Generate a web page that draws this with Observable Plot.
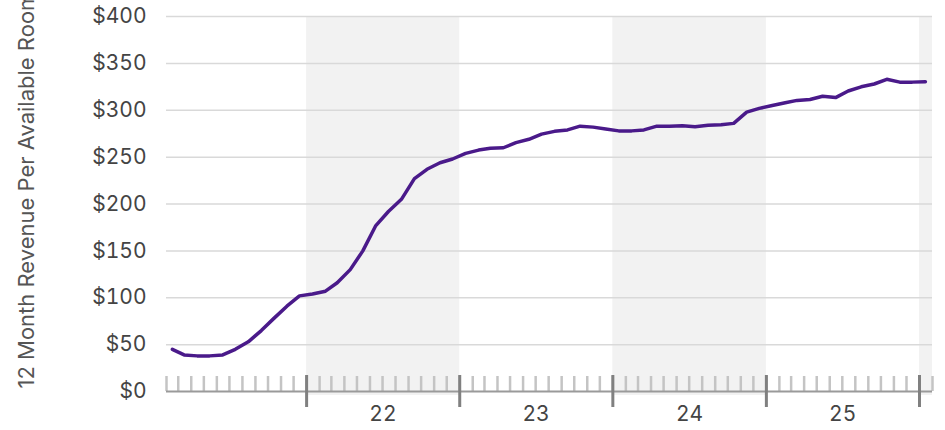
<!DOCTYPE html>
<html><head><meta charset="utf-8">
<script src="https://cdn.jsdelivr.net/npm/d3@7"></script>
<script src="https://cdn.jsdelivr.net/npm/@observablehq/plot@0.6"></script>
<style>
html,body{margin:0;padding:0;background:#fff;}
#chart svg{display:block;}
</style></head><body><div id="chart"></div>
<script>
// ---- data ----
const startMonth = "2021-02";   // first month of the series
const endMonth = "2026-02";     // right edge of the time axis
const revpar = [
  45, 39, 38, 38, 39, 45, 53, 65, 78, 91, 102,            // Feb–Dec 2021
  104, 107, 116, 130, 150, 177, 192, 205, 227, 237, 244, 248, // 2022
  254, 257.5, 259.5, 260, 265.5, 269, 274.5, 277.5, 279, 283, 282, 280, // 2023
  278, 278, 279, 283, 283, 283.5, 282.5, 284, 284.5, 286, 298, 302, // 2024
  305, 308, 310.5, 311.5, 315, 313.5, 320.5, 325, 328, 333, 330, 330, // 2025
  330.5 // Jan 2026
];
const yTicks = [0, 50, 100, 150, 200, 250, 300, 350, 400];
const yearLabels = ["22", "23", "24", "25"];
const shadedYears = [2022, 2024, 2026];
const yLabel = "12 Month Revenue Per Available Room";

// ---- derived tables ----
const parseMonth = d3.utcParse("%Y-%m");
const x0 = parseMonth(startMonth), x1 = parseMonth(endMonth);
const data = revpar.map((v, i) => ({
  date: d3.utcDay.offset(d3.utcMonth.offset(x0, i), 14),
  value: v
}));
const monthTicks = d3.utcMonth.range(x0, d3.utcDay.offset(x1, 1));
const yearTicks = d3.utcYear.range(d3.utcYear.ceil(x0), d3.utcDay.offset(x1, 1));
const yearMid = yearLabels.map(s => new Date(Date.UTC(2000 + +s, 6, 2)));
const shades = shadedYears.map(y => ({
  x1: new Date(Date.UTC(y, 0, 1)),
  x2: d3.min([new Date(Date.UTC(y + 1, 0, 1)), x1])
}));

const FONT = "Inter, Roboto, sans-serif";

const chart = Plot.plot({
  width: 945,
  height: 430,
  marginTop: 16,
  marginBottom: 39,
  marginLeft: 166,
  marginRight: 13,
  style: {fontFamily: FONT, fontSize: "21px", color: "#444", background: "#fff"},
  x: {type: "utc", domain: [x0, x1]},
  y: {domain: [0, 400]},
  marks: [
    Plot.rect(shades, {x1: "x1", x2: "x2", fill: "#f2f2f2", insetBottom: -4}),
    Plot.gridY(yTicks.filter(d => d > 0), {stroke: "#d9d9d9", strokeOpacity: 1, strokeWidth: 1.5}),
    Plot.axisY(yTicks, {tickSize: 0, tickPadding: 20, tickFormat: d => `$${d}`, label: null, fill: "#444", fontSize: 21}),
    Plot.tickX(monthTicks, {x: d => d, stroke: "#c4c4c4", strokeWidth: 2.5, insetTop: 360}),
    Plot.ruleY([0], {stroke: "#9a9a9a", strokeWidth: 2}),
    Plot.tickX(yearTicks, {x: d => d, stroke: "#808080", strokeWidth: 3, insetTop: 359, insetBottom: -16}),
    Plot.axisX(yearMid, {tickSize: 0, tickPadding: 15, tickFormat: d3.utcFormat("%y"), label: null, fill: "#444", fontSize: 21}),
    Plot.line(data, {x: "date", y: "value", stroke: "#4a1a8a", strokeWidth: 3.5, strokeLinejoin: "round"}),
    Plot.text([yLabel], {
      text: d => d, frameAnchor: "bottom-left", rotate: -90,
      dx: -140, dy: -3, textAnchor: "start", lineAnchor: "middle",
      fontSize: 22, fill: "#555"
    })
  ]
});
document.getElementById("chart").append(chart);
</script>
</body></html>
